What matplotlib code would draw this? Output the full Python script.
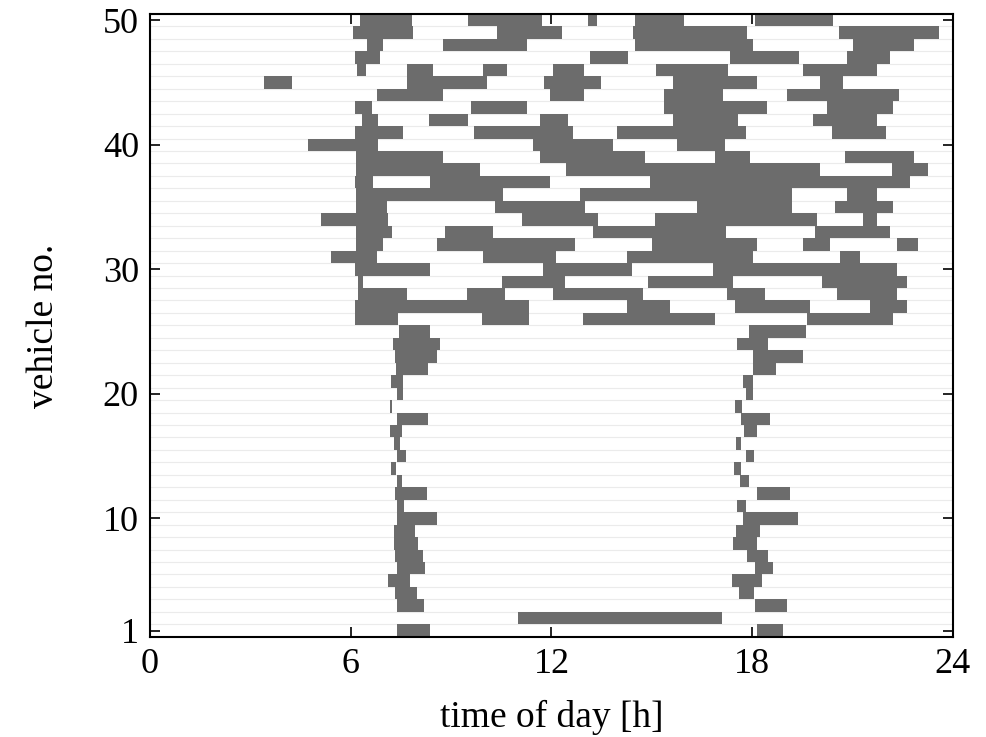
import matplotlib.pyplot as plt
import numpy as np
import pandas as pd

plt.rcParams['font.family'] = ['Liberation Serif', 'DejaVu Serif']

# one entry per trip: vehicle number, departure and arrival time [h]
trip_vehicle = ([50]*5 + [49]*4 + [48]*4 + [47]*4 + [46]*6 + [45]*5 + [44]*4 + [43]*4 + [42]*5 + [41]*4 +
                [40]*3 + [39]*4 + [38]*3 + [37]*3 + [36]*3 + [35]*4 + [34]*4 + [33]*4 + [32]*5 + [31]*4 +
                [30]*3 + [29]*4 + [28]*5 + [27]*4 + [26]*4 +
                [25]*2 + [24]*2 + [23]*2 + [22]*2 + [21]*2 + [20]*2 + [19]*2 + [18]*2 + [17]*2 + [16]*2 +
                [15]*2 + [14]*2 + [13]*2 + [12]*2 + [11]*2 + [10]*2 + [9]*2 + [8]*2 + [7]*2 + [6]*2 +
                [5]*2 + [4]*2 + [3]*2 + [2]*1 + [1]*2)

trip_start = [6.28, 9.50, 13.09, 14.50, 18.08,
              6.07, 10.37, 14.44, 20.59,
              6.49, 8.76, 14.50, 21.01,
              6.13, 13.15, 17.34, 20.83,
              6.19, 7.68, 9.95, 12.05, 15.12, 19.52,
              3.41, 7.68, 11.78, 15.63, 20.03,
              6.78, 11.96, 15.36, 19.04,
              6.13, 9.59, 15.36, 20.23,
              6.34, 8.34, 11.66, 15.63, 19.82,
              6.13, 9.68, 13.96, 20.38,
              4.72, 11.45, 15.75,
              6.16, 11.66, 16.89, 20.77,
              6.16, 12.43, 22.18,
              6.13, 8.37, 14.94,
              6.16, 12.85, 20.83,
              6.16, 10.31, 16.35, 20.47,
              5.11, 11.12, 15.09, 21.31,
              6.16, 8.82, 13.24, 19.88,
              6.16, 8.58, 15.00, 19.52, 22.33,
              5.41, 9.95, 14.26, 20.62,
              6.13, 11.75, 16.83,
              6.22, 10.52, 14.88, 20.09,
              6.22, 9.47, 12.05, 17.25, 20.53,
              6.13, 14.26, 17.49, 21.52,
              6.13, 9.92, 12.94, 19.64,
              7.44, 17.90,
              7.26, 17.54,
              7.32, 18.02,
              7.35, 18.02,
              7.20, 17.72,
              7.38, 17.81,
              7.17, 17.49,
              7.38, 17.66,
              7.17, 17.75,
              7.29, 17.52,
              7.38, 17.81,
              7.20, 17.46,
              7.38, 17.63,
              7.32, 18.14,
              7.38, 17.54,
              7.38, 17.72,
              7.29, 17.52,
              7.29, 17.43,
              7.32, 17.84,
              7.38, 18.08,
              7.11, 17.40,
              7.32, 17.60,
              7.38, 18.08,
              11.00,
              7.38, 18.14]

trip_end = [7.83, 11.72, 13.36, 15.96, 20.41,
            7.86, 12.31, 17.84, 23.58,
            6.96, 11.27, 18.02, 22.83,
            6.87, 14.29, 19.40, 22.12,
            6.46, 8.46, 10.67, 12.97, 17.28, 21.73,
            4.24, 10.07, 13.48, 18.14, 20.71,
            8.76, 12.97, 17.13, 22.39,
            6.64, 11.27, 18.44, 22.21,
            6.81, 9.50, 12.49, 17.57, 21.73,
            7.56, 12.64, 17.81, 22.00,
            6.81, 13.84, 17.19,
            8.76, 14.79, 17.93, 22.83,
            9.86, 20.03, 23.25,
            6.67, 11.96, 22.72,
            10.55, 19.19, 21.73,
            7.08, 13.00, 19.19, 22.21,
            7.11, 13.39, 19.94, 21.73,
            7.23, 10.25, 17.22, 22.12,
            6.96, 12.70, 18.14, 20.32, 22.95,
            6.78, 12.13, 18.02, 21.22,
            8.37, 14.41, 22.33,
            6.37, 12.40, 17.43, 22.63,
            7.68, 10.61, 14.74, 18.38, 22.33,
            11.33, 15.54, 19.73, 22.63,
            7.41, 11.33, 16.89, 22.21,
            8.37, 19.61,
            8.67, 18.47,
            8.58, 19.52,
            8.31, 18.71,
            7.56, 18.02,
            7.56, 18.02,
            7.23, 17.69,
            8.31, 18.53,
            7.53, 18.14,
            7.47, 17.66,
            7.65, 18.05,
            7.35, 17.66,
            7.53, 17.90,
            8.28, 19.13,
            7.59, 17.81,
            8.58, 19.37,
            7.92, 18.23,
            8.01, 18.14,
            8.16, 18.47,
            8.22, 18.62,
            7.77, 18.29,
            7.98, 18.05,
            8.19, 19.04,
            17.10,
            8.37, 18.92]

x_ticks = [0, 6, 12, 18, 24]
y_ticks = [1, 10, 20, 30, 40, 50]
n_vehicles = 50

trips = pd.DataFrame({'vehicle': trip_vehicle, 'start': trip_start, 'end': trip_end})

fig = plt.figure(figsize=(9.87, 7.37), dpi=100)
ax = fig.add_axes([0.152, 0.136, 0.8135, 0.845])

# faint row separators
for v in np.arange(0.5, n_vehicles + 1):
    ax.axhline(v, color='#ebebeb', linewidth=0.8, zorder=0)

for veh, grp in trips.groupby('vehicle'):
    ax.broken_barh(list(zip(grp['start'], grp['end'] - grp['start'])), (veh - 0.5, 1),
                   facecolors='#6c6c6c', edgecolor='none', zorder=2)

ax.set_xlim(0, 24)
ax.set_ylim(0.5, n_vehicles + 0.5)
ax.set_xticks(x_ticks)
ax.set_yticks(y_ticks)
ax.tick_params(direction='in', length=7, width=1.2, top=True, right=True, labelsize=26, pad=8)
for s in ax.spines.values():
    s.set_linewidth(1.5)
ax.set_xlabel('time of day [h]', fontsize=27, labelpad=14)
ax.set_ylabel('vehicle no.', fontsize=27, labelpad=30)

fig.savefig('out.png', dpi=100)
